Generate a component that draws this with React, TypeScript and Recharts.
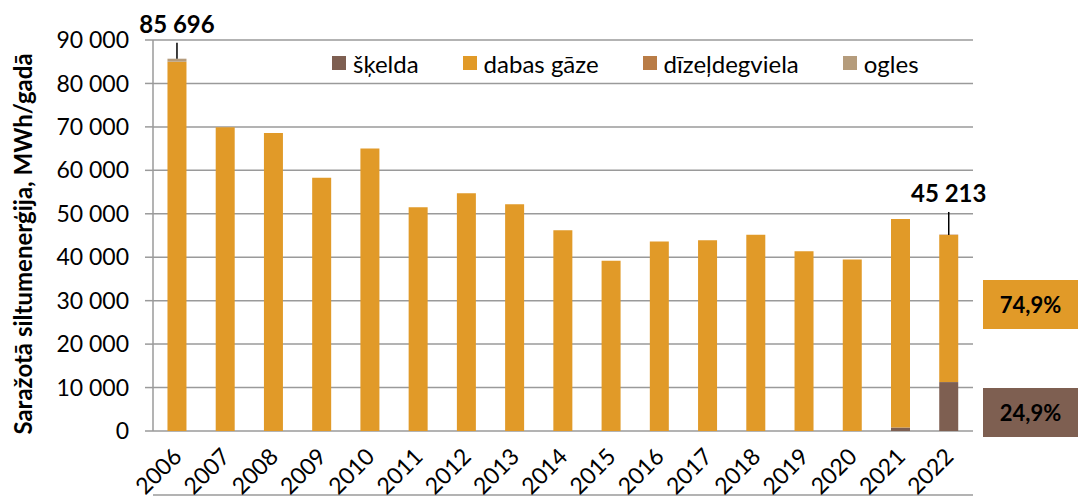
import React from "react";
import { Bar, BarChart, CartesianGrid, LabelList, XAxis, YAxis } from "recharts";

const years = ["2006", "2007", "2008", "2009", "2010", "2011", "2012", "2013", "2014", "2015", "2016", "2017", "2018", "2019", "2020", "2021", "2022"];
const skelda = [0, 0, 0, 0, 0, 0, 0, 0, 0, 0, 0, 0, 0, 0, 0, 800, 11258];
const dabasGaze = [85000, 69900, 68600, 58300, 65000, 51500, 54700, 52200, 46200, 39200, 43600, 43900, 45200, 41400, 39500, 48000, 33865];
const dizeldegviela = [0, 0, 0, 0, 0, 0, 0, 0, 0, 0, 0, 0, 0, 0, 0, 0, 90];
const ogles = [696, 0, 0, 0, 0, 0, 0, 0, 0, 0, 0, 0, 0, 0, 0, 0, 0];
const yTicks = [0, 10000, 20000, 30000, 40000, 50000, 60000, 70000, 80000, 90000];
const calloutYears = ["2006", "2022"];

const FONT = "Lato, 'DejaVu Sans', sans-serif";
const GRID = "#9a9a9a";
const COLORS = {
  skelda: "#7e5f51",
  gaze: "#e19a28",
  dizel: "#b97c46",
  ogles: "#b59c7c",
};
const SERIES = [
  { key: "skelda", name: "šķelda", color: COLORS.skelda },
  { key: "gaze", name: "dabas gāze", color: COLORS.gaze },
  { key: "dizel", name: "dīzeļdegviela", color: COLORS.dizel },
  { key: "ogles", name: "ogles", color: COLORS.ogles },
];

const data = years.map((y, i) => ({
  year: y,
  skelda: skelda[i],
  gaze: dabasGaze[i],
  dizel: dizeldegviela[i],
  ogles: ogles[i],
  total: skelda[i] + dabasGaze[i] + dizeldegviela[i] + ogles[i],
}));

const fmt = (v: number) => String(v).replace(/\B(?=(\d{3})+(?!\d))/g, " ");
const pct = (v: number, t: number) => ((v / t) * 100).toFixed(1).replace(".", ",") + "%";

// top visible segment of each stack (sub-pixel ones get no label from recharts)
const topKey = (row: any) => {
  let k = "";
  SERIES.forEach((s) => {
    if (row[s.key] > row.total * 0.005) k = s.key;
  });
  return k;
};

const last = data[data.length - 1];
const gazeShare = pct(last.gaze, last.total);
const skeldaShare = pct(last.skelda, last.total);

function YearTick(props: any) {
  const { x, y, payload } = props;
  const ex = x + 6;
  const ey = y + 19;
  return (
    <text x={ex} y={ey} textAnchor="end" fontSize={23} fontFamily={FONT} fill="#000" transform={`rotate(-45, ${ex}, ${ey})`}>
      {payload.value}
    </text>
  );
}

function Callout(props: any) {
  const { x, y, width, index, seriesKey } = props;
  const row = data[index];
  if (!row || !calloutYears.includes(row.year) || topKey(row) !== seriesKey) return null;
  const cx = x + width / 2;
  const len = index === 0 ? 16 : 23;
  return (
    <g>
      <line x1={cx} y1={y} x2={cx} y2={y - len} stroke="#000" strokeWidth={1.5} />
      <text x={cx} y={y - len - 10} textAnchor="middle" fontSize={24} fontWeight="bold" fontFamily={FONT} fill="#000">
        {fmt(row.total)}
      </text>
    </g>
  );
}

function YTitle() {
  return (
    <text x={22} y={244} textAnchor="middle" dominantBaseline="central" fontSize={24} fontWeight="bold" fontFamily={FONT} fill="#000" transform="rotate(-90, 22, 244)">
      Saražotā siltumenerģija, MWh/gadā
    </text>
  );
}

const boxStyle = (bg: string, top: number): React.CSSProperties => ({
  position: "absolute",
  left: 983,
  top,
  width: 95,
  height: 49,
  background: bg,
  display: "flex",
  alignItems: "center",
  justifyContent: "center",
  fontFamily: FONT,
  fontWeight: "bold",
  fontSize: 22,
  color: "#000",
});

export default function App() {
  return (
    <div style={{ position: "absolute", left: 0, top: 0, width: 1078, height: 503, background: "#fff" }}>
      <BarChart width={1078} height={503} data={data} margin={{ top: 40, right: 105, bottom: 0, left: 0 }} barCategoryGap="30%">
        <CartesianGrid vertical={false} stroke={GRID} strokeWidth={1.5} />
        <XAxis xAxisId="edges" type="number" domain={[0, 17]} ticks={[0, 1, 2, 3, 4, 5, 6, 7, 8, 9, 10, 11, 12, 13, 14, 15, 16, 17]} tick={false} height={8} tickSize={8} axisLine={{ stroke: GRID, strokeWidth: 1.5 }} tickLine={{ stroke: GRID, strokeWidth: 1.5 }} />
        <XAxis xAxisId="cat" dataKey="year" interval={0} height={64} tickLine={false} axisLine={false} tick={<YearTick />} />
        <YAxis
          width={153}
          domain={[0, 90000]}
          ticks={yTicks}
          tickFormatter={fmt}
          tickSize={8}
          tickMargin={16}
          axisLine={{ stroke: GRID, strokeWidth: 1.5 }}
          tickLine={{ stroke: GRID, strokeWidth: 1.5 }}
          tick={{ fontSize: 23, fill: "#000", fontFamily: FONT }}
          label={{ content: <YTitle /> }}
        />
        {SERIES.map((s) => (
          <Bar key={s.key} xAxisId="cat" dataKey={s.key} name={s.name} stackId="a" fill={s.color} isAnimationActive={false}>
            <LabelList dataKey="total" content={<Callout seriesKey={s.key} />} />
          </Bar>
        ))}
      </BarChart>
      <div style={{ position: "absolute", left: 332, top: 48, height: 30, display: "flex", alignItems: "center", fontFamily: FONT, fontSize: 24, color: "#000" }}>
        {SERIES.map((s) => (
          <div key={s.key} style={{ display: "flex", alignItems: "center", marginRight: 44 }}>
            <span style={{ width: 14, height: 14, background: s.color, display: "inline-block", marginRight: 7 }} />
            <span>{s.name}</span>
          </div>
        ))}
      </div>
      <div style={boxStyle(COLORS.gaze, 280)}>{gazeShare}</div>
      <div style={boxStyle(COLORS.skelda, 388)}>{skeldaShare}</div>
    </div>
  );
}
